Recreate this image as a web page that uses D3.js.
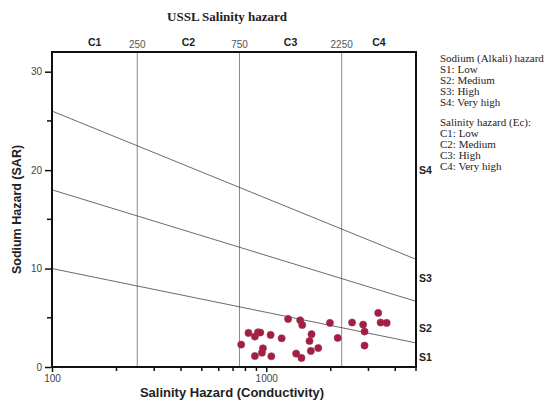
<!DOCTYPE html>
<html>
<head>
<meta charset="utf-8">
<script src="https://cdn.jsdelivr.net/npm/d3@7"></script>
<style>
  body { margin: 0; background: #fff; }
  svg { display: block; }
</style>
</head>
<body>
<div id="chart"></div>
<script>
// sample points: conductivity (EC) and SAR
const ecValues = [764, 826, 885, 915, 938, 885, 965, 955, 1048, 1056, 1180, 1265, 1440, 1472, 1379,
  1460, 1627, 1592, 1615, 1749, 1983, 2155, 2515, 2833, 2876, 2876, 3331, 3418, 3648];
const sarValues = [2.28, 3.46, 3.09, 3.53, 3.50, 1.12, 1.90, 1.46, 3.26, 1.09, 2.92, 4.88, 4.75, 4.27, 1.36,
  0.92, 3.33, 2.64, 1.63, 1.93, 4.48, 2.95, 4.52, 4.31, 3.60, 2.18, 5.49, 4.52, 4.48];

// class boundaries
const salinityBounds = [250, 750, 2250];
const salinityClasses = ["C1", "C2", "C3", "C4"];
const sodiumClasses = ["S1", "S2", "S3", "S4"];
// sodium boundary lines: SAR at EC=100 and EC=5000
const boundaryStart = [10, 18, 26];
const boundaryEnd = [2.45, 6.67, 10.94];

const yTicks = [0, 10, 20, 30];
const yMinorTicks = [5, 15, 25];
const xTickLabels = [100, 1000];
const xMinorTicks = [200, 300, 400, 500, 600, 700, 800, 900, 2000, 3000, 4000, 5000];

const legendSodium = ["Sodium (Alkali) hazard", "S1: Low", "S2: Medium", "S3: High", "S4: Very high"];
const legendSalinity = ["Salinity hazard (Ec):", "C1: Low", "C2: Medium", "C3: High", "C4: Very high"];

const W = 558, H = 401;
const pLeft = 52, pRight = 416, pTop = 52, pBottom = 367;

const svg = d3.select("#chart").append("svg")
  .attr("width", W).attr("height", H);

const x = d3.scaleLog().domain([100, 5000]).range([pLeft, pRight]);
const y = d3.scaleLinear().domain([0, 32]).range([pBottom, pTop]);

// title
svg.append("text")
  .attr("x", 227).attr("y", 21)
  .attr("text-anchor", "middle")
  .style("font-family", "'Liberation Serif', serif")
  .style("font-weight", "bold")
  .style("font-size", "13px")
  .attr("fill", "#222")
  .text("USSL Salinity hazard");

// vertical class lines
svg.append("g").selectAll("line")
  .data(salinityBounds)
  .join("line")
    .attr("x1", d => x(d)).attr("x2", d => x(d))
    .attr("y1", pTop).attr("y2", pBottom)
    .attr("stroke", "#8a8a8a")
    .attr("stroke-width", 1);

// sodium boundary lines
svg.append("g").selectAll("line")
  .data(boundaryStart)
  .join("line")
    .attr("x1", x(100)).attr("y1", d => y(d))
    .attr("x2", x(5000)).attr("y2", (d, i) => y(boundaryEnd[i]))
    .attr("stroke", "#444")
    .attr("stroke-width", 0.8);

// points
svg.append("g").selectAll("circle")
  .data(ecValues.map((ec, i) => ({ec: ec, sar: sarValues[i]})))
  .join("circle")
    .attr("cx", d => x(d.ec))
    .attr("cy", d => y(d.sar))
    .attr("r", 3.6)
    .attr("fill", "#a81c3c")
    .attr("stroke", "#8a3a6a")
    .attr("stroke-width", 0.6);

// frame
svg.append("rect")
  .attr("x", pLeft).attr("y", pTop)
  .attr("width", pRight - pLeft).attr("height", pBottom - pTop)
  .attr("fill", "none")
  .attr("stroke", "#111")
  .attr("stroke-width", 2);

// y axis
const yAxis = svg.append("g")
  .attr("transform", `translate(${pLeft - 1},0)`)
  .call(d3.axisLeft(y).tickValues(yTicks).tickSize(6).tickPadding(3).tickFormat(d3.format("d")));
yAxis.select(".domain").remove();
yAxis.selectAll("line").attr("stroke", "#111").attr("stroke-width", 1.5);
yAxis.selectAll("text")
  .style("font-family", "'Liberation Sans', Arial, sans-serif")
  .style("font-size", "10px")
  .attr("fill", "#444");
svg.append("g").selectAll("line")
  .data(yMinorTicks)
  .join("line")
    .attr("x1", pLeft - 5).attr("x2", pLeft)
    .attr("y1", d => y(d)).attr("y2", d => y(d))
    .attr("stroke", "#111").attr("stroke-width", 1.5);

// x axis
const xAxis = svg.append("g")
  .attr("transform", `translate(0,${pBottom + 1})`)
  .call(d3.axisBottom(x).tickValues(xTickLabels).tickSize(4).tickPadding(3).tickFormat(d3.format("d")));
xAxis.select(".domain").remove();
xAxis.selectAll("line").attr("stroke", "#111").attr("stroke-width", 1.5);
xAxis.selectAll("text")
  .style("font-family", "'Liberation Sans', Arial, sans-serif")
  .style("font-size", "10px")
  .attr("fill", "#444");
svg.append("g").selectAll("line")
  .data(xMinorTicks)
  .join("line")
    .attr("x1", d => x(d)).attr("x2", d => x(d))
    .attr("y1", pBottom).attr("y2", pBottom + 4)
    .attr("stroke", "#111").attr("stroke-width", 1.5);

// axis titles
svg.append("text")
  .attr("x", 232).attr("y", 397)
  .attr("text-anchor", "middle")
  .style("font-family", "'Liberation Sans', Arial, sans-serif")
  .style("font-weight", "bold")
  .style("font-size", "13px")
  .attr("fill", "#222")
  .text("Salinity Hazard (Conductivity)");

svg.append("text")
  .attr("transform", `translate(21,${(pTop + pBottom) / 2}) rotate(-90)`)
  .attr("text-anchor", "middle")
  .style("font-family", "'Liberation Sans', Arial, sans-serif")
  .style("font-weight", "bold")
  .style("font-size", "12.5px")
  .attr("fill", "#222")
  .text("Sodium Hazard (SAR)");

// top class labels
const classEdges = [100].concat(salinityBounds, [5000]);
svg.append("g").selectAll("text")
  .data(salinityClasses)
  .join("text")
    .attr("x", (d, i) => x(Math.sqrt(classEdges[i] * classEdges[i + 1])))
    .attr("y", 46)
    .attr("text-anchor", "middle")
    .style("font-family", "'Liberation Sans', Arial, sans-serif")
    .style("font-weight", "bold")
    .style("font-size", "10.5px")
    .attr("fill", "#222")
    .text(d => d);
svg.append("g").selectAll("text")
  .data(salinityBounds)
  .join("text")
    .attr("x", d => x(d))
    .attr("y", 48)
    .attr("text-anchor", "middle")
    .style("font-family", "'Liberation Sans', Arial, sans-serif")
    .style("font-size", "10px")
    .attr("fill", "#555")
    .text(d => d);

// right sodium class labels
const sodiumLabelY = [1, 4, 9, 20];
svg.append("g").selectAll("text")
  .data(sodiumClasses)
  .join("text")
    .attr("x", pRight + 3)
    .attr("y", (d, i) => y(sodiumLabelY[i]) + 4)
    .style("font-family", "'Liberation Sans', Arial, sans-serif")
    .style("font-weight", "bold")
    .style("font-size", "10.5px")
    .attr("fill", "#222")
    .text(d => d);

// legend text
const legend = svg.append("g")
  .style("font-family", "'Liberation Serif', serif")
  .style("font-size", "11px")
  .attr("fill", "#222");
legend.selectAll("text.sod")
  .data(legendSodium)
  .join("text")
    .attr("class", "sod")
    .attr("x", 440)
    .attr("y", (d, i) => 62 + i * 11)
    .text(d => d);
legend.selectAll("text.sal")
  .data(legendSalinity)
  .join("text")
    .attr("class", "sal")
    .attr("x", 440)
    .attr("y", (d, i) => 125.5 + i * 11)
    .text(d => d);
</script>
</body>
</html>
